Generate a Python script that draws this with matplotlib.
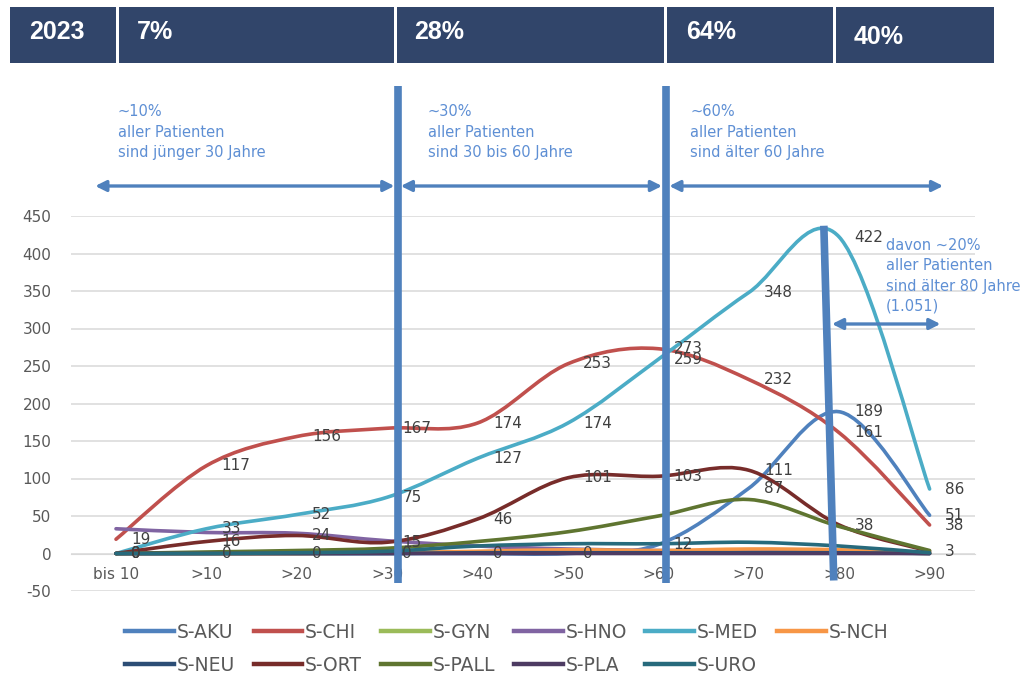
import matplotlib
matplotlib.use("Agg")
import matplotlib.pyplot as plt
import numpy as np
from matplotlib.path import Path
from matplotlib.patches import PathPatch, Rectangle
from matplotlib.lines import Line2D

plt.rcParams["font.family"] = ["DejaVu Sans"]
plt.rcParams["axes.unicode_minus"] = False

# age groups and patient counts per department
categories = ["bis 10", ">10", ">20", ">30", ">40", ">50", ">60", ">70", ">80", ">90"]

s_aku = [0, 0, 0, 0, 0, 0, 12, 87, 189, 51]
s_chi = [19, 117, 156, 167, 174, 253, 273, 232, 161, 38]
s_gyn = [0, 0, 0, 1, 2, 3, 3, 3, 2, 0]
s_hno = [33, 28, 27, 17, 10, 6, 4, 3, 2, 0]
s_med = [0, 33, 52, 75, 127, 174, 259, 348, 422, 86]
s_nch = [0, 0, 0, 1, 3, 5, 4, 6, 5, 1]
s_neu = [0, 0, 0, 0, 1, 1, 1, 1, 1, 0]
s_ort = [0, 16, 24, 15, 46, 101, 103, 111, 38, 3]
s_pall = [0, 2, 4, 7, 16, 29, 50, 72, 36, 4]
s_pla = [0, 0, 0, 0, 0, 0, 0, 0, 0, 0]
s_uro = [0, 0, 1, 3, 10, 13, 13, 15, 10, 1]

series = [
    ("S-AKU", s_aku, "#4F81BD", True),
    ("S-CHI", s_chi, "#C0504D", True),
    ("S-GYN", s_gyn, "#9BBB59", False),
    ("S-HNO", s_hno, "#8064A2", False),
    ("S-MED", s_med, "#4BACC6", True),
    ("S-NCH", s_nch, "#F79646", False),
    ("S-NEU", s_neu, "#2C4D75", False),
    ("S-ORT", s_ort, "#772C2A", True),
    ("S-PALL", s_pall, "#5F7530", False),
    ("S-PLA", s_pla, "#4D3B62", False),
    ("S-URO", s_uro, "#276A7C", False),
]

header_labels = ["2023", "7%", "28%", "64%", "40%"]

ACCENT = "#4F81BD"
NOTE = "#5E8FD4"
GRID = "#D9D9D9"


def smooth_path(xs, ys):
    """Catmull-Rom style bezier through the points (like a smoothed office line)."""
    pts = np.column_stack([xs, ys]).astype(float)
    n = len(pts)
    verts = [pts[0]]
    codes = [Path.MOVETO]
    for i in range(n - 1):
        p0 = pts[max(i - 1, 0)]
        p1 = pts[i]
        p2 = pts[i + 1]
        p3 = pts[min(i + 2, n - 1)]
        verts += [p1 + (p2 - p0) / 6, p2 - (p3 - p1) / 6, p2]
        codes += [Path.CURVE4] * 3
    return Path(verts, codes)


W, H = 1034, 689
fig = plt.figure(figsize=(W / 100, H / 100), dpi=100)
ax = fig.add_axes([70.8 / W, 1 - 591 / H, 904 / W, 375 / H])

x = np.arange(len(categories))
for name, vals, color, _ in series:
    ax.add_patch(PathPatch(smooth_path(x, vals), fill=False, edgecolor=color,
                           lw=2.6, capstyle="round", joinstyle="round", zorder=3))

# data labels on the four big departments
for name, vals, color, labelled in series:
    if not labelled:
        continue
    for xi, v in zip(x, vals):
        ax.annotate(str(v), (xi, v), xytext=(11, 0), textcoords="offset points",
                    ha="left", va="center", fontsize=11, color="#404040", zorder=6)

ax.set_xlim(-0.5, 9.5)
ax.set_ylim(-50, 450)
ax.set_yticks(np.arange(-50, 451, 50))
ax.set_xticks(x)
ax.set_xticklabels(categories)
ax.grid(axis="y", color=GRID, lw=1.1)
ax.set_axisbelow(True)
for side in ["top", "right", "left"]:
    ax.spines[side].set_visible(False)
ax.spines["bottom"].set_position(("data", 0))
ax.spines["bottom"].set_color(GRID)
ax.tick_params(axis="x", length=0, pad=10, labelsize=11, labelcolor="#595959")
ax.tick_params(axis="y", length=0, pad=14, labelsize=11, labelcolor="#595959")

# age band separators
bar_kw = dict(color=ACCENT, lw=5.5, solid_capstyle="butt", clip_on=False, zorder=5)
ax.plot([3.12, 3.12], [-39, 624], **bar_kw)
ax.plot([6.08, 6.08], [-39, 624], **bar_kw)
ax.plot([7.83, 7.94], [437, -36], **bar_kw)

arrow_kw = dict(arrowstyle="<|-|>", color=ACCENT, lw=2.4, mutation_scale=16,
                shrinkA=0, shrinkB=0)
for x0, x1, yy in [(-0.23, 3.08, 490), (3.15, 6.04, 490), (6.12, 9.15, 490), (7.92, 9.12, 306)]:
    ax.annotate("", xy=(x1, yy), xytext=(x0, yy), arrowprops=arrow_kw,
                annotation_clip=False, zorder=5)

notes = [
    (0.02, 599, "~10%\naller Patienten\nsind jünger 30 Jahre"),
    (3.45, 599, "~30%\naller Patienten\nsind 30 bis 60 Jahre"),
    (6.35, 599, "~60%\naller Patienten\nsind älter 60 Jahre"),
    (8.52, 421, "davon ~20%\naller Patienten\nsind älter 80 Jahre\n(1.051)"),
]
for nx, ny, txt in notes:
    ax.text(nx, ny, txt, ha="left", va="top", fontsize=10.5, color=NOTE,
            linespacing=1.45, clip_on=False, zorder=6)

# header strip
boxes = [(10, 116), (119, 394), (397, 664), (667, 833), (836, 994)]
text_pos = [(57, 32, "center"), (137, 32, "left"), (414, 32, "left"),
            (686, 32, "left"), (854, 37, "left")]
for (bx0, bx1), (tx, ty, ha), lab in zip(boxes, text_pos, header_labels):
    fig.add_artist(Rectangle((bx0 / W, 1 - 63 / H), (bx1 - bx0) / W, 56 / H,
                             transform=fig.transFigure, facecolor="#31456A",
                             edgecolor="none"))
    fig.text(tx / W, 1 - ty / H, lab, ha=ha, va="center", color="white",
             fontsize=18, fontweight="bold", family=["Liberation Sans", "DejaVu Sans"])

# legend, row-wise order
order = [0, 6, 1, 7, 2, 8, 3, 9, 4, 10, 5]
handles = [Line2D([], [], color=series[i][2], lw=3.2) for i in order]
labels = [series[i][0] for i in order]
fig.legend(handles, labels, ncol=6, loc="center", bbox_to_anchor=(0.49, 1 - 649 / H),
           frameon=False, fontsize=13.5, labelcolor="#595959", handlelength=2.6,
           handletextpad=0.15, columnspacing=1.0, labelspacing=0.75)

fig.savefig("out.png", dpi=100)
